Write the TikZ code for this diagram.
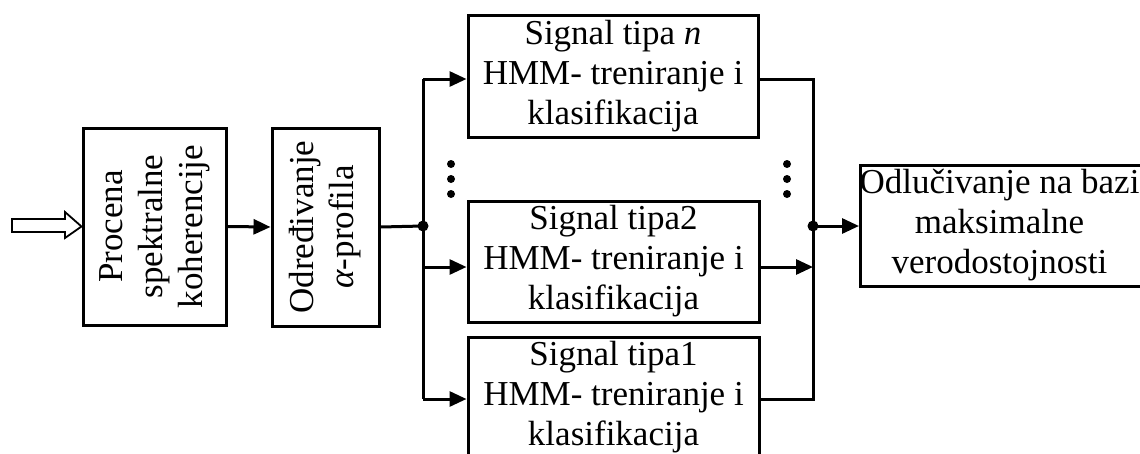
\documentclass[tikz,border=0pt]{standalone}
\usepackage{fontspec}
\setmainfont{Liberation Serif}
\usetikzlibrary{arrows.meta}
\tikzset{
  blk/.style={draw, line width=3pt, inner sep=0pt, align=center, font=\fontsize{35}{40}\selectfont},
  conn/.style={line width=3pt},
  arr/.style={conn, -{Triangle[length=17pt,width=15pt]}},
  jdot/.style={circle, fill, inner sep=0pt, minimum size=11pt},
  vdot/.style={circle, fill, inner sep=0pt, minimum size=8pt}
}
\begin{document}
\begin{tikzpicture}[x=1pt,y=-1pt]
\useasboundingbox[fill=white] (0,0) rectangle (1140,453);
% boxes
\node[blk, minimum width=143pt, minimum height=197pt] (b1) at (154.5,226.5)
  {\rotatebox{90}{\begin{tabular}{@{}c@{}}Procena\\spektralne\\koherencije\end{tabular}}};
\node[blk, minimum width=107pt, minimum height=198pt] (b2) at (325.5,227)
  {\rotatebox{90}{\begin{tabular}{@{}c@{}}Određivanje\\\textit{α}-profila\end{tabular}}};
\node[blk, minimum width=290pt, minimum height=122pt] (sn) at (613,76)
  {Signal tipa \textit{n}\\HMM- treniranje i\\klasifikacija};
\node[blk, minimum width=291pt, minimum height=121pt] (s2) at (613.5,261.5)
  {Signal tipa2\\HMM- treniranje i\\klasifikacija};
\node[blk, minimum width=291pt, minimum height=121pt] (s1) at (613.5,397.5)
  {Signal tipa1\\HMM- treniranje i\\klasifikacija};
\node[blk, minimum width=292pt, minimum height=121pt, anchor=west] (dec) at (859,225.5)
  {\hspace*{-7pt}\begin{tabular}{@{}c@{}}Odlučivanje na bazi\\maksimalne\\verodostojnosti\end{tabular}\hspace*{7pt}};
% input hollow arrow
\draw[line width=1.8pt, line join=miter] (12,219) -- (65,219) -- (65,212) -- (b1.west) -- (65,238) -- (65,232) -- (12,232) -- cycle;
% junctions
\coordinate (jl) at (423,226);
\coordinate (jr) at (813,226);
\coordinate (ln) at (423,79);
\coordinate (l2) at (423,267);
\coordinate (l1) at (423,399);
\coordinate (rn) at (813,79);
\coordinate (r2) at (813,267);
\coordinate (r1) at (813,399);
\draw[arr] (b1.east) -- (b2.west);
\draw[conn] (b2.east) -- (jl);
\draw[conn] (ln) -- (l1);
\draw[arr] (ln) -- (ln -| sn.west);
\draw[arr] (l2) -- (l2 -| s2.west);
\draw[arr] (l1) -- (l1 -| s1.west);
\draw[conn, line join=miter] (rn -| sn.east) -- (rn) -- (r1) -- (r1 -| s1.east);
\draw[arr] (r2 -| s2.east) -- (r2);
\draw[arr] (jr) -- (jr -| dec.west);
\node[jdot] (dl) at (jl) {};
\node[jdot] (dr) at (jr) {};
% vertical ellipses
\foreach \y in {164,179,194} {
  \node[vdot] at (451,\y) {};
  \node[vdot] at (787,\y) {};
}
\end{tikzpicture}
\end{document}
